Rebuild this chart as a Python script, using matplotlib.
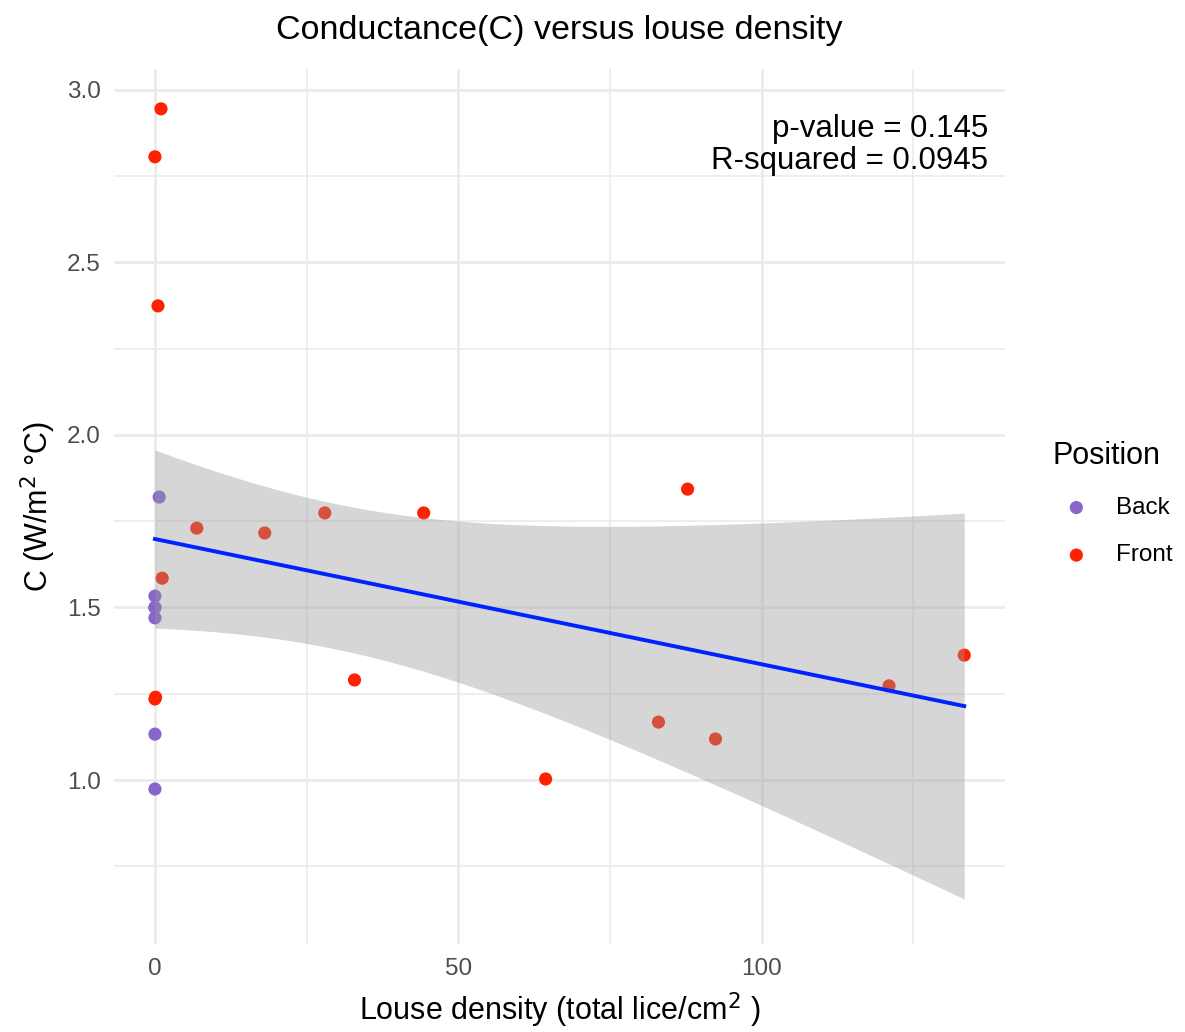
import numpy as np
import matplotlib.pyplot as plt

plt.rcParams['font.family'] = ['Liberation Sans', 'DejaVu Sans']

# data (some points overlap near x=0)
front_x = [1.0, 0.0, 0.5, 6.9, 18.1, 28.0, 44.3, 87.8, 1.2, 32.9, 0.0, 0.1, 64.4, 83.0, 92.4, 121.0, 133.4]
front_y = [2.945, 2.806, 2.374, 1.730, 1.716, 1.774, 1.774, 1.843, 1.585, 1.290, 1.235, 1.240, 1.003, 1.168, 1.119, 1.273, 1.362]
back_x = [0.7, 0.0, 0.0, 0.0, 0.0, 0.0, 0.0]
back_y = [1.820, 1.533, 1.500, 1.500, 1.470, 1.133, 0.974]

p_value = "0.145"
r_squared = "0.0945"

# linear fit + 95% confidence band (like geom_smooth(method='lm'))
x_all = np.array(front_x + back_x)
y_all = np.array(front_y + back_y)
n = len(x_all)
slope, intercept = np.polyfit(x_all, y_all, 1)
resid = y_all - (slope * x_all + intercept)
s = np.sqrt(np.sum(resid ** 2) / (n - 2))
t_crit = 2.074  # t(0.975, df=22)
xs = np.linspace(x_all.min(), x_all.max(), 200)
ys = slope * xs + intercept
se = s * np.sqrt(1 / n + (xs - x_all.mean()) ** 2 / np.sum((x_all - x_all.mean()) ** 2))

fig = plt.figure(figsize=(11.85, 10.32), dpi=100)
ax = fig.add_axes([0.0966, 0.0853, 0.7514, 0.8477])

ax.scatter(back_x, back_y, s=90, color='#8866cc', edgecolors='none', label='Back', zorder=3)
ax.scatter(front_x, front_y, s=90, color='#ff2200', edgecolors='none', label='Front', zorder=3)
ax.fill_between(xs, ys - t_crit * se, ys + t_crit * se, color='#999999', alpha=0.4,
                linewidth=0, zorder=4)
ax.plot(xs, ys, color='#0022ff', linewidth=2.8, zorder=5)

ax.set_xlim(-6.67, 140.1)
ax.set_ylim(0.525, 3.06)
ax.set_xticks([0, 50, 100])
ax.set_xticks([25, 75, 125], minor=True)
ax.set_yticks([1.0, 1.5, 2.0, 2.5, 3.0])
ax.set_yticks([0.75, 1.25, 1.75, 2.25, 2.75], minor=True)
ax.yaxis.set_major_formatter(plt.FormatStrFormatter('%.1f'))
ax.grid(which='major', color='#ebebeb', linewidth=2.0)
ax.grid(which='minor', color='#ebebeb', linewidth=1.2)
ax.set_axisbelow(True)
for sp in ax.spines.values():
    sp.set_visible(False)
ax.tick_params(which='both', length=0, labelsize=17.5, labelcolor='#4d4d4d', pad=10)

ax.set_xlabel('Louse density (total lice/cm$^{2}$ )', fontsize=22, labelpad=8)
ax.set_ylabel('C (W/m$^{2}$ °C)', fontsize=22, labelpad=6)
ax.set_title('Conductance(C) versus louse density', fontsize=24.5, pad=22)

ax.text(137.4, 2.93, f'p-value = {p_value}\nR-squared = {r_squared}', ha='right', va='top',
        fontsize=22.5, linespacing=1.1)

leg = ax.legend(title='Position', loc='center left', bbox_to_anchor=(1.0284, 0.503), frameon=False,
                fontsize=17.5, title_fontsize=22, markerscale=1.0, handletextpad=0.64,
                labelspacing=1.05)
leg._legend_box.align = 'left'

fig.savefig('out.png', dpi=100)
